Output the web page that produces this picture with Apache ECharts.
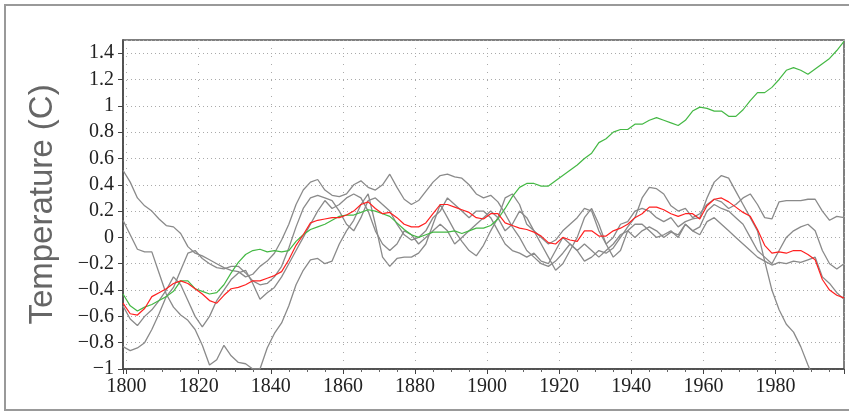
<!DOCTYPE html>
<html>
<head>
<meta charset="utf-8">
<script src="https://cdn.jsdelivr.net/npm/echarts@6/dist/echarts.min.js"></script>
<style>
html,body{margin:0;padding:0;background:#fff;}
#chart{width:849px;height:412px;}
</style>
</head>
<body>
<div id="chart"></div>
<script>
// Years (every 2 years)
const years = [1799,1801,1803,1805,1807,1809,1811,1813,1815,1817,1819,1821,1823,1825,1827,1829,1831,1833,1835,1837,1839,1841,1843,1845,1847,1849,1851,1853,1855,1857,1859,1861,1863,1865,1867,1869,1871,1873,1875,1877,1879,1881,1883,1885,1887,1889,1891,1893,1895,1897,1899,1901,1903,1905,1907,1909,1911,1913,1915,1917,1919,1921,1923,1925,1927,1929,1931,1933,1935,1937,1939,1941,1943,1945,1947,1949,1951,1953,1955,1957,1959,1961,1963,1965,1967,1969,1971,1973,1975,1977,1979,1981,1983,1985,1987,1989,1991,1993,1995,1997,1999];

const redMean = [-0.50,-0.58,-0.59,-0.54,-0.45,-0.42,-0.39,-0.35,-0.33,-0.35,-0.39,-0.43,-0.48,-0.50,-0.44,-0.39,-0.38,-0.36,-0.33,-0.33,-0.31,-0.29,-0.26,-0.17,-0.06,0.02,0.11,0.13,0.14,0.15,0.15,0.17,0.20,0.25,0.27,0.22,0.18,0.19,0.15,0.10,0.08,0.08,0.11,0.18,0.25,0.25,0.23,0.21,0.19,0.15,0.14,0.18,0.18,0.11,0.09,0.07,0.06,0.04,0.01,-0.04,-0.05,0.00,-0.02,-0.03,0.05,0.05,0.01,0.01,0.05,0.07,0.10,0.15,0.18,0.23,0.23,0.21,0.18,0.16,0.18,0.18,0.14,0.24,0.29,0.30,0.27,0.23,0.19,0.16,0.06,-0.06,-0.12,-0.11,-0.12,-0.10,-0.10,-0.13,-0.17,-0.32,-0.40,-0.44,-0.46];

const greenSeries = [-0.43,-0.52,-0.56,-0.53,-0.51,-0.48,-0.45,-0.41,-0.33,-0.33,-0.39,-0.41,-0.43,-0.42,-0.36,-0.27,-0.19,-0.13,-0.10,-0.09,-0.11,-0.10,-0.11,-0.10,-0.03,0.02,0.06,0.08,0.10,0.13,0.16,0.17,0.17,0.19,0.21,0.20,0.18,0.16,0.11,0.06,0.02,0.00,0.02,0.04,0.04,0.04,0.05,0.03,0.05,0.07,0.07,0.09,0.14,0.22,0.31,0.38,0.41,0.41,0.39,0.39,0.43,0.47,0.51,0.55,0.60,0.64,0.72,0.75,0.80,0.82,0.82,0.86,0.86,0.89,0.91,0.89,0.87,0.85,0.89,0.96,0.99,0.98,0.96,0.96,0.92,0.92,0.97,1.04,1.10,1.10,1.14,1.20,1.27,1.29,1.27,1.24,1.28,1.32,1.36,1.42,1.49];

const grayA = [0.51,0.42,0.30,0.24,0.20,0.14,0.09,0.08,0.03,-0.07,-0.12,-0.14,-0.17,-0.20,-0.23,-0.25,-0.26,-0.30,-0.28,-0.22,-0.18,-0.12,-0.02,0.10,0.25,0.36,0.42,0.44,0.36,0.32,0.31,0.33,0.40,0.43,0.38,0.36,0.40,0.48,0.38,0.29,0.25,0.28,0.35,0.42,0.47,0.48,0.46,0.45,0.40,0.33,0.30,0.32,0.27,0.18,0.08,0.00,-0.10,-0.15,-0.20,-0.22,-0.18,-0.12,-0.05,-0.10,-0.18,-0.15,-0.10,-0.12,-0.08,0.00,0.08,0.15,0.30,0.38,0.37,0.33,0.24,0.20,0.22,0.15,0.18,0.25,0.29,0.27,0.22,0.25,0.30,0.33,0.25,0.15,0.14,0.27,0.28,0.28,0.28,0.29,0.29,0.20,0.13,0.16,0.15];

const grayB = [0.13,0.02,-0.09,-0.11,-0.11,-0.27,-0.43,-0.53,-0.59,-0.63,-0.70,-0.82,-0.97,-0.93,-0.82,-0.90,-0.95,-0.96,-1.00,-1.00,-0.84,-0.73,-0.65,-0.52,-0.36,-0.25,-0.17,-0.16,-0.20,-0.18,-0.05,0.05,0.13,0.25,0.33,0.10,-0.15,-0.22,-0.16,-0.15,-0.15,-0.12,-0.05,0.10,0.25,0.15,0.05,-0.03,-0.10,-0.14,-0.06,0.05,0.15,0.30,0.33,0.25,0.10,0.05,0.00,-0.05,-0.02,0.05,0.10,0.15,0.22,0.20,0.05,-0.05,0.00,0.10,0.12,0.20,0.22,0.20,0.15,0.12,0.15,0.08,0.12,0.14,0.15,0.30,0.42,0.47,0.45,0.35,0.25,0.15,0.05,-0.18,-0.40,-0.55,-0.66,-0.72,-0.83,-0.97,-1.10,-1.25,-1.40,-1.50,-1.60];

const grayC = [-0.52,-0.62,-0.67,-0.60,-0.55,-0.48,-0.40,-0.30,-0.36,-0.48,-0.60,-0.68,-0.60,-0.48,-0.40,-0.32,-0.27,-0.25,-0.35,-0.47,-0.42,-0.38,-0.30,-0.20,-0.10,0.00,0.10,0.20,0.28,0.22,0.25,0.30,0.33,0.30,0.20,0.05,-0.05,-0.10,-0.05,0.05,0.02,-0.05,0.00,0.05,0.10,0.05,-0.05,0.00,0.05,0.10,0.15,0.20,0.15,0.05,0.10,0.20,0.15,0.05,-0.05,-0.15,-0.25,-0.20,-0.10,0.00,0.15,0.22,0.10,-0.05,-0.15,-0.10,0.05,0.10,0.10,0.05,0.00,0.02,0.05,0.00,0.10,0.05,0.02,0.12,0.15,0.10,0.05,0.00,-0.05,-0.10,-0.15,-0.18,-0.21,-0.19,-0.20,-0.18,-0.19,-0.17,-0.15,-0.30,-0.35,-0.42,-0.47];

const grayD = [-0.83,-0.86,-0.84,-0.80,-0.70,-0.58,-0.45,-0.38,-0.25,-0.12,-0.10,-0.16,-0.20,-0.23,-0.24,-0.22,-0.22,-0.27,-0.33,-0.36,-0.35,-0.30,-0.22,-0.08,0.08,0.22,0.30,0.32,0.30,0.28,0.20,0.10,0.05,0.15,0.28,0.30,0.25,0.20,0.10,0.02,-0.02,0.00,0.05,0.15,0.20,0.30,0.25,0.20,0.15,0.20,0.20,0.15,0.05,-0.05,-0.10,-0.12,-0.15,-0.12,-0.18,-0.20,-0.10,0.00,-0.05,-0.10,-0.05,-0.10,-0.15,-0.10,-0.05,0.02,0.05,0.00,0.05,0.08,0.05,0.00,0.04,0.02,0.10,0.05,0.08,0.20,0.25,0.22,0.20,0.15,0.10,0.00,-0.10,-0.15,-0.20,-0.10,0.00,0.05,0.08,0.10,0.05,-0.10,-0.20,-0.24,-0.20];

function pairs(vals){ return years.map((y,i)=>[y, vals[i]]); }

const chart = echarts.init(document.getElementById('chart'), null, {renderer:'canvas'});
const grayStyle = {color:'#8a8a8a', width:1.3};
function line(name, vals, style, z){
  return {name:name, type:'line', data:pairs(vals), symbol:'none', smooth:false,
    lineStyle:style, itemStyle:{color:style.color}, z:z, clip:true, animation:false};
}
const axisFont = {fontFamily:'Liberation Sans Narrow', fontSize:20, color:'#222'};
chart.setOption({
  animation:false,
  backgroundColor:'#fff',
  grid:{left:123, right:5, top:40, bottom:43, show:true, borderColor:'#555', borderWidth:1.5, backgroundColor:'transparent'},
  graphic:[{type:'rect', shape:{x:5, y:5, width:900, height:405}, style:{fill:'none', stroke:'#999', lineWidth:2}, z:-1, silent:true}],
  xAxis:{type:'value', min:1799, max:1999, splitNumber:10,
    axisLine:{onZero:false, lineStyle:{color:'#444', width:1.5}},
    axisTick:{show:true, length:5, lineStyle:{color:'#444'}},
    minorTick:{show:true, splitNumber:4, length:3, lineStyle:{color:'#666'}},
    axisLabel:Object.assign({margin:8, showMinLabel:false, showMaxLabel:false,
      formatter:function(v){ return String(Math.round(v)); }}, axisFont),
    splitLine:{show:true, lineStyle:{color:'#aaa', type:[1,7], width:1}}
  },
  yAxis:{type:'value', min:-1, max:1.5, interval:0.2,
    name:'Temperature (C)', nameLocation:'middle', nameGap:64,
    nameTextStyle:{fontFamily:'Liberation Sans', fontSize:33, color:'#666', fontWeight:'lighter'},
    axisLine:{show:true, onZero:false, lineStyle:{color:'#444', width:1.5}},
    axisTick:{show:true, length:5, lineStyle:{color:'#444'}},
    axisLabel:Object.assign({margin:9, showMaxLabel:false,
      formatter:function(v){ var r=Math.round(v*10)/10; if(Math.abs(r)<1e-9) return '0'; return r<0 ? '\u2212'+String(Math.abs(r)) : String(r);} }, axisFont),
    splitLine:{show:true, lineStyle:{color:'#aaa', type:[1,3], width:1}}
  },
  series:[
    line('A', grayA, grayStyle, 2),
    line('B', grayB, grayStyle, 2),
    line('C', grayC, grayStyle, 2),
    line('D', grayD, grayStyle, 2),
    line('Green', greenSeries, {color:'#44b844', width:1.2}, 3),
    line('Red', redMean, {color:'#ff2020', width:1.2}, 4)
  ]
});
</script>
</body>
</html>
